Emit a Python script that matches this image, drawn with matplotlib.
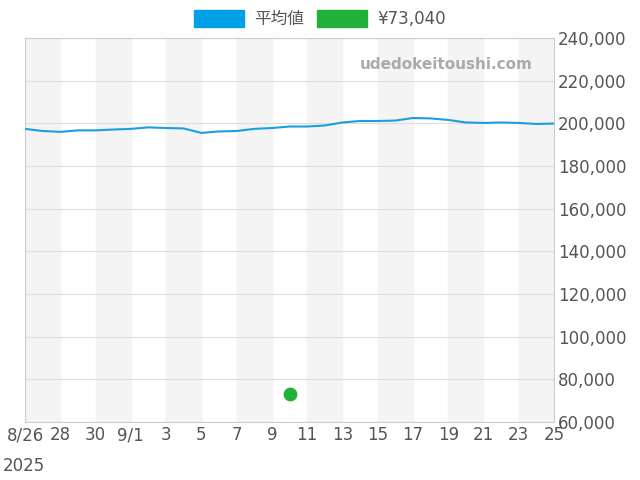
import matplotlib
matplotlib.use("Agg")
import matplotlib.pyplot as plt
from matplotlib.patches import Patch
import numpy as np

plt.rcParams['font.family'] = ['DejaVu Sans', 'Noto Sans CJK JP']

# days from 8/26 (0) to 9/25 (30)
avg_prices = [197.4, 196.4, 196.0, 196.7, 196.7, 197.1, 197.4, 198.1, 197.8, 197.6,
              195.5, 196.2, 196.4, 197.4, 197.8, 198.5, 198.5, 199.0, 200.4, 201.1,
              201.1, 201.3, 202.5, 202.3, 201.6, 200.4, 200.2, 200.4, 200.2, 199.7, 199.9]
avg_prices = [v * 1000 for v in avg_prices]
point_day = 15
point_price = 73040
tick_labels = ['8/26', '28', '30', '9/1', '3', '5', '7', '9', '11', '13', '15', '17', '19', '21', '23', '25']

days = np.arange(len(avg_prices))

fig = plt.figure(figsize=(6.4, 4.8), dpi=100)
ax = fig.add_axes([25/640, 58/480, 529/640, 384/480])

for start in range(0, 30, 4):
    ax.axvspan(start, min(start + 2, 30), color='#f4f4f4', zorder=0)
ax.axvspan(28, 30, color='#f4f4f4', zorder=0)

ax.plot(days, avg_prices, color='#1a9fe0', lw=1.5, zorder=3)
ax.scatter([point_day], [point_price], color='#22b03a', s=80, zorder=4)

ax.set_xlim(0, 30)
ax.set_ylim(60000, 240000)
ax.set_xticks(range(0, 31, 2))
ax.set_xticklabels(tick_labels)
ax.set_yticks(range(60000, 240001, 20000))
ax.set_yticklabels([f'{v:,}' for v in range(60000, 240001, 20000)])
ax.yaxis.tick_right()
ax.grid(axis='y', color='#dddddd', lw=0.8)
ax.tick_params(length=0, labelsize=12, colors='#555555', pad=3)
for s in ax.spines.values():
    s.set_color('#cccccc')
fig.text(3/640, 1 - 466/480, '2025', fontsize=12, color='#555555', va='center')
ax.text(0.96, 0.93, 'udedokeitoushi.com', transform=ax.transAxes, ha='right', va='center',
        fontsize=11, fontweight='bold', color='#aaaaaa')

handles = [Patch(color='#00a0e9', label='平均値'), Patch(color='#22b03a', label='¥73,040')]
fig.legend(handles=handles, loc='center', bbox_to_anchor=(0.5, 1 - 19/480), ncol=2,
           frameon=False, fontsize=12, handlelength=3, handleheight=1.2,
           columnspacing=0.8, handletextpad=0.6, labelcolor='#555555')

fig.savefig('out.png')
